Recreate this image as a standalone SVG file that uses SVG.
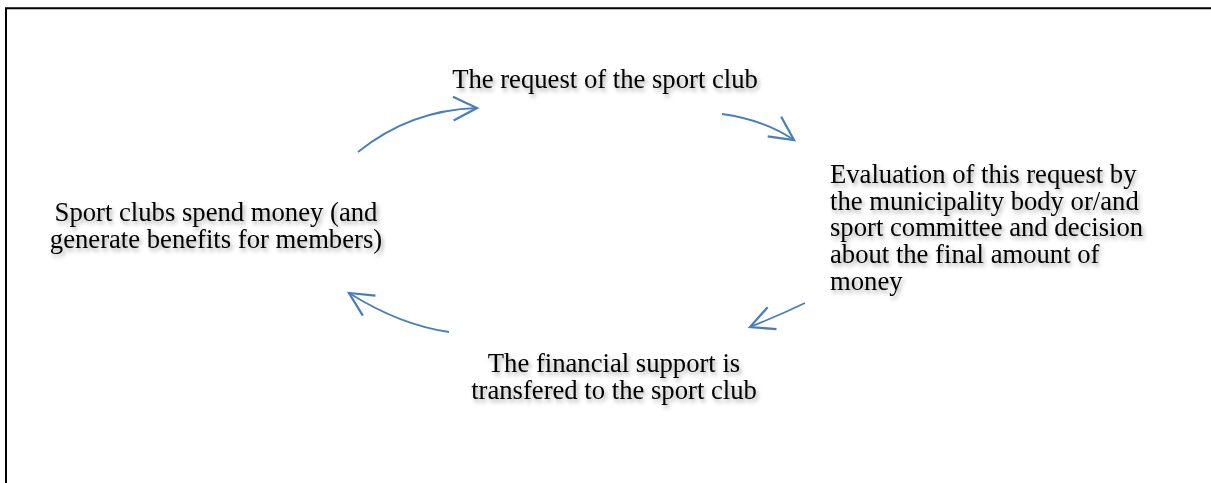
<svg xmlns="http://www.w3.org/2000/svg" width="1211" height="483" viewBox="0 0 1211 483">
  <style>
    .lbl { font-family: "Liberation Serif", "Times New Roman", serif; font-size: 26.67px; fill: #000; filter: url(#shadow); }
    .mid { text-anchor: middle; }
    .arc { fill: none; stroke: #4A7EBB; stroke-width: 1.8; marker-end: url(#head); }
    .frame { fill: none; stroke: #000; stroke-width: 2; }
  </style>
  <defs>
    <filter id="shadow" x="-10%" y="-30%" width="120%" height="170%">
      <feDropShadow dx="2" dy="3" stdDeviation="2" flood-color="#000" flood-opacity="0.35"/>
    </filter>
    <marker id="head" markerUnits="userSpaceOnUse" markerWidth="30" markerHeight="30" refX="0" refY="0" viewBox="-22 -12 24 24" orient="auto">
      <path d="M-19,-9.5 L0,0 L-19,9.5" fill="none" stroke="#4A7EBB" stroke-width="1.8"/>
    </marker>
  </defs>
  <rect width="1211" height="483" fill="#fff"/>
  <path class="frame" d="M6,483 V8.3 H1211"/>

  <g id="connectors">
    <path class="arc" d="M358,152 Q410,110 477,108"/>
    <path class="arc" d="M722,114 Q765,120 794,140"/>
    <path class="arc" d="M805,303 Q780,315 750,327"/>
    <path class="arc" d="M449,332 Q400,325 349,293"/>
  </g>

  <g id="node-request">
    <text class="lbl mid" x="605" y="88">The request of the sport club</text>
  </g>
  <g id="node-evaluation">
    <text class="lbl" x="830" y="183">Evaluation of this request by</text>
    <text class="lbl" x="830" y="210">the municipality body or/and</text>
    <text class="lbl" x="830" y="236">sport committee and decision</text>
    <text class="lbl" x="830" y="263">about the final amount of</text>
    <text class="lbl" x="830" y="290">money</text>
  </g>
  <g id="node-transfer">
    <text class="lbl mid" x="614" y="372">The financial support is</text>
    <text class="lbl mid" x="614" y="399">transfered to the sport club</text>
  </g>
  <g id="node-spend">
    <text class="lbl mid" x="216" y="221">Sport clubs spend money (and</text>
    <text class="lbl mid" x="216" y="248">generate benefits for members)</text>
  </g>
</svg>
